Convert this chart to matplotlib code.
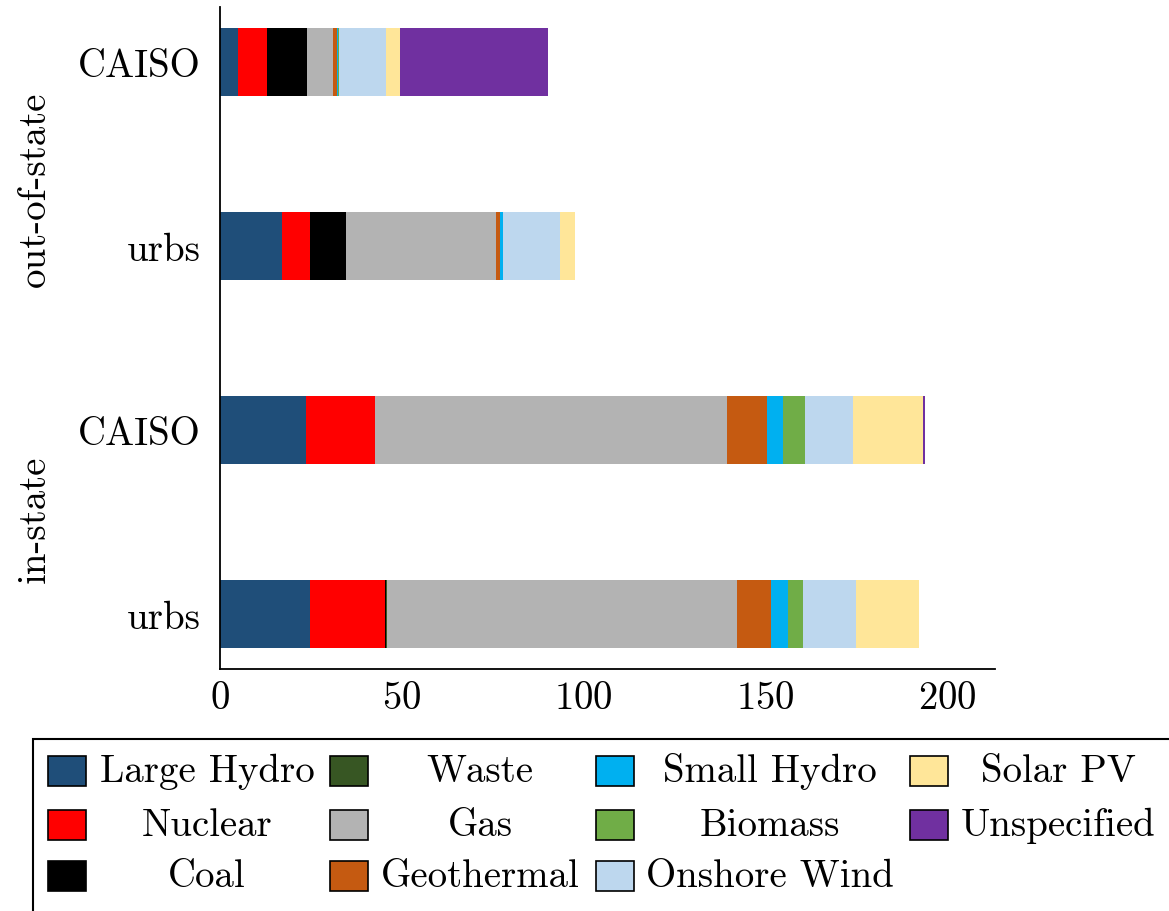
import matplotlib
matplotlib.use("Agg")
import matplotlib.pyplot as plt
from matplotlib.patches import Rectangle

plt.rcParams['font.family'] = 'serif'
plt.rcParams['font.serif'] = ['cmr10', 'DejaVu Serif']
plt.rcParams['mathtext.fontset'] = 'cm'
plt.rcParams['axes.unicode_minus'] = False
plt.rcParams['axes.formatter.use_mathtext'] = True

# bars from bottom to top
bar_labels = ['urbs', 'CAISO', 'urbs', 'CAISO']
groups = ['in-state', 'out-of-state']

techs = ['Large Hydro', 'Nuclear', 'Coal', 'Waste', 'Gas', 'Geothermal',
         'Small Hydro', 'Biomass', 'Onshore Wind', 'Solar PV', 'Unspecified']
colors = ['#1f4e79', '#ff0000', '#000000', '#375623', '#b3b3b3', '#c55a11',
          '#00b0f0', '#70ad47', '#bdd7ee', '#ffe699', '#7030a0']

large_hydro = [24.7, 23.8, 17.2, 5.0]
nuclear     = [20.6, 18.8, 7.5, 8.0]
coal        = [0.4, 0.0, 9.9, 11.0]
waste       = [0.2, 0.0, 0.0, 0.0]
gas         = [96.2, 96.8, 41.4, 7.2]
geothermal  = [9.3, 11.0, 0.9, 0.9]
small_hydro = [4.7, 4.5, 0.9, 0.3]
biomass     = [4.3, 5.8, 0.0, 0.4]
wind        = [14.5, 13.3, 15.7, 12.8]
solar       = [17.2, 19.2, 4.0, 3.9]
unspecified = [0.0, 0.5, 0.0, 40.7]

values = [large_hydro, nuclear, coal, waste, gas, geothermal,
          small_hydro, biomass, wind, solar, unspecified]

fig = plt.figure(figsize=(11.69, 9.12), dpi=100)
ax = fig.add_axes([0.188, 0.2654, 0.663, 0.7256])

ypos = list(range(len(bar_labels)))
left = [0.0] * len(bar_labels)
for name, col, vals in zip(techs, colors, values):
    ax.barh(ypos, vals, left=left, height=0.37, color=col, label=name,
            edgecolor='none')
    left = [l + v for l, v in zip(left, vals)]

ax.set_xlim(0, 213)
ax.set_ylim(-0.3, 3.3)
ax.set_yticks(ypos)
ax.set_yticklabels(bar_labels)
ax.set_xticks([0, 50, 100, 150, 200])
ax.tick_params(axis='both', length=0, labelsize=28)
ax.tick_params(axis='y', pad=14)
ax.tick_params(axis='x', pad=8)
for s in ['top', 'right']:
    ax.spines[s].set_visible(False)
for s in ['left', 'bottom']:
    ax.spines[s].set_linewidth(1.3)

# group labels on the left
group_y = [0.52, 2.315]
for g, gy in zip(groups, group_y):
    ax.text(-0.238, gy, g, rotation=90, ha='center', va='center', fontsize=28,
            transform=ax.get_yaxis_transform())

# legend drawn by hand so labels are centred in their columns
W, H = 1169.0, 912.0
fig.patches.append(Rectangle((33 / W, -0.01), 1.2, (912 - 740) / H + 0.01,
                             transform=fig.transFigure, fill=False,
                             edgecolor='black', linewidth=1.5))
col_handle_x = [48, 330, 596, 910]
col_text_x = [207, 480, 770, 1058]
row_y = [772, 826, 877]
for i, (name, col) in enumerate(zip(techs, colors)):
    c, r = divmod(i, 3)
    hx = col_handle_x[c]
    hy = row_y[r]
    fig.patches.append(Rectangle((hx / W, (H - hy - 15) / H), 38 / W, 30 / H,
                                 transform=fig.transFigure, facecolor=col,
                                 edgecolor='black', linewidth=1.2))
    fig.text(col_text_x[c] / W, (H - hy) / H, name, ha='center', va='center',
             fontsize=28)

fig.savefig('out.png', dpi=100)
